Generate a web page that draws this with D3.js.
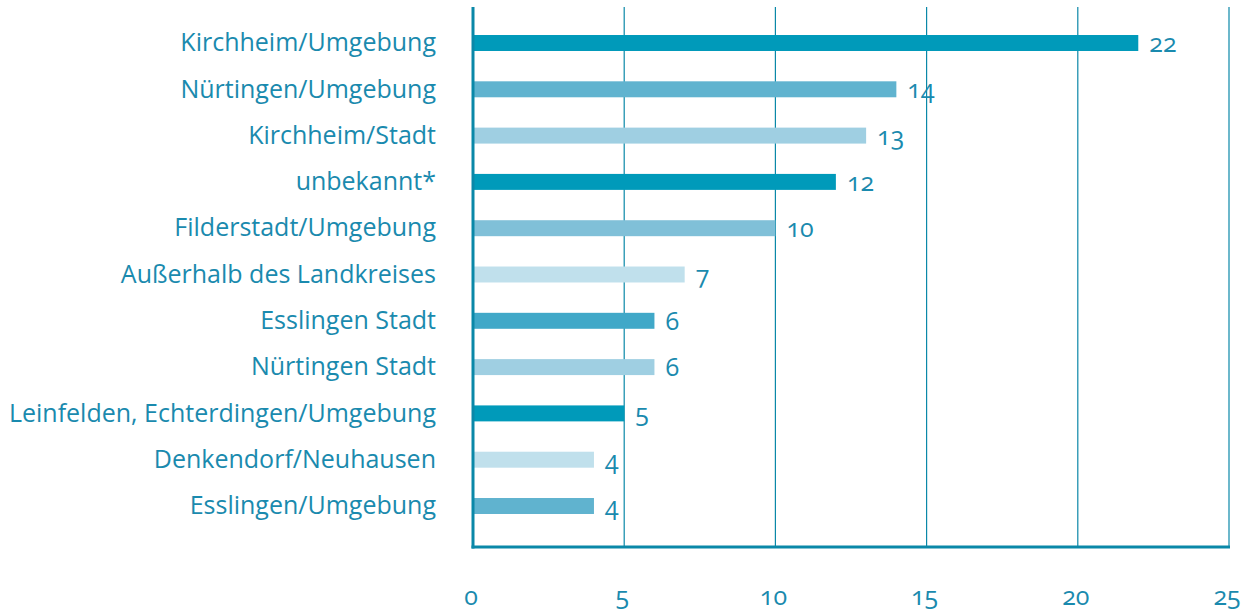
<!DOCTYPE html>
<html><head><meta charset="utf-8">
<script src="https://cdn.jsdelivr.net/npm/d3@7"></script>
<style>
html,body{margin:0;padding:0;background:#fff;}
svg{display:block;}
text{font-family:"Open Sans",sans-serif;}
.num{font-feature-settings:"onum" 1;}
</style></head>
<body>
<svg id="chart" width="1257" height="611"></svg>
<script>
const categories = ["Kirchheim/Umgebung","Nürtingen/Umgebung","Kirchheim/Stadt","unbekannt*","Filderstadt/Umgebung","Außerhalb des Landkreises","Esslingen Stadt","Nürtingen Stadt","Leinfelden, Echterdingen/Umgebung","Denkendorf/Neuhausen","Esslingen/Umgebung"];
const values = [22,14,13,12,10,7,6,6,5,4,4];
const barColors = ["#009aba","#60b3cf","#9fcfe2","#009aba","#80c0d8","#c0e0ec","#40a8c8","#9fcfe2","#009aba","#c0e0ec","#60b3cf"];
const tickValues = [0,5,10,15,20,25];

(function(){
const svg = d3.select("#chart");
const textColor = "#1a8aae";
const axisColor = "#0a88a8";

const x = d3.scaleLinear().domain([0,25]).range([473,1229]);
const y = d3.scaleBand().domain(categories).range([19.85,529.15]).paddingInner(0.655).paddingOuter(0.3275);

const yTop = 7, yBottom = 547;

svg.append("g").selectAll("line").data(tickValues.filter(d=>d>0)).join("line")
  .attr("x1",d=>x(d)).attr("x2",d=>x(d)).attr("y1",yTop).attr("y2",yBottom)
  .attr("stroke",axisColor).attr("stroke-width",1.2);

svg.append("g").selectAll("rect").data(values).join("rect")
  .attr("x",x(0)).attr("y",(d,i)=>y(categories[i]))
  .attr("width",d=>x(d)-x(0)).attr("height",y.bandwidth())
  .attr("fill",(d,i)=>barColors[i]);

svg.append("line").attr("x1",x(0)).attr("x2",x(0)).attr("y1",yTop).attr("y2",yBottom+1.5)
  .attr("stroke",axisColor).attr("stroke-width",3);
svg.append("line").attr("x1",x(0)-1.5).attr("x2",x(25)+1).attr("y1",yBottom).attr("y2",yBottom)
  .attr("stroke",axisColor).attr("stroke-width",3);

svg.append("g").selectAll("text").data(categories).join("text")
  .attr("x",436).attr("y",d=>y(d)+y.bandwidth()/2).attr("dy","0.33em")
  .attr("text-anchor","end").attr("fill",textColor).attr("font-size",25)
  .text(d=>d);

svg.append("g").selectAll("text").data(values).join("text")
  .attr("class","num")
  .attr("x",d=>x(d)+11).attr("y",(d,i)=>y(categories[i])+y.bandwidth()/2).attr("dy","0.36em")
  .attr("fill",textColor).attr("font-size",25)
  .text(d=>d);

svg.append("g").selectAll("text").data(tickValues).join("text")
  .attr("class","num")
  .attr("x",d=>x(d)-2).attr("y",597).attr("dy","0.3em")
  .attr("text-anchor","middle").attr("fill",textColor).attr("font-size",25)
  .text(d=>d);
})();
</script>
</body></html>
